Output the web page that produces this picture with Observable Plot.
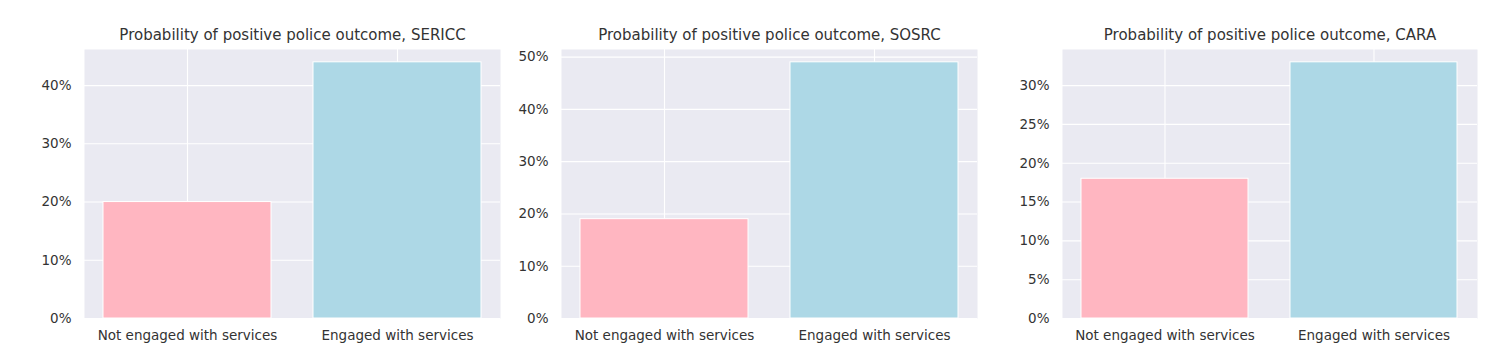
<!DOCTYPE html>
<html>
<head>
<meta charset="utf-8">
<script src="https://cdn.jsdelivr.net/npm/d3@7"></script>
<script src="https://cdn.jsdelivr.net/npm/@observablehq/plot@0.6"></script>
<style>
  html, body { margin: 0; padding: 0; background: #ffffff; }
  #wrap { position: relative; width: 1492px; height: 360px; overflow: hidden; }
  .panel { position: absolute; top: 0; }
</style>
</head>
<body>
<div id="wrap"></div>
<script>
// ---- data ----
const categories = ["Not engaged with services", "Engaged with services"];
const barColors = ["#FFB6C1", "#ADD8E6"];
const panelNames = ["SERICC", "SOSRC", "CARA"];
const sericcValues = [20, 44];
const sosrcValues = [19, 49];
const caraValues = [18, 33];
const sericcTicks = [0, 10, 20, 30, 40];
const sosrcTicks = [0, 10, 20, 30, 40, 50];
const caraTicks = [0, 5, 10, 15, 20, 25, 30];
const titlePrefix = "Probability of positive police outcome, ";

// ---- layout ----
const layouts = [
  {left: 0,    marginLeft: 84, width: 504, marginRight: 4},
  {left: 506,  marginLeft: 55, width: 475, marginRight: 4},
  {left: 1000, marginLeft: 62, width: 487, marginRight: 10}
];
const series = [sericcValues, sosrcValues, caraValues];
const ticks = [sericcTicks, sosrcTicks, caraTicks];

const wrap = document.getElementById("wrap");
series.forEach((vals, k) => {
  const data = categories.map((c, i) => ({cat: c, value: vals[i]}));
  const L = layouts[k];
  const chart = Plot.plot({
    width: L.width,
    height: 360,
    marginLeft: L.marginLeft,
    marginRight: L.marginRight,
    marginTop: 49,
    marginBottom: 42,
    style: {fontFamily: "DejaVu Sans", fontSize: "13.5px", color: "#333333", background: "transparent", overflow: "visible"},
    x: {domain: categories, paddingInner: 0.2, paddingOuter: 0.09, label: null},
    y: {domain: [0, d3.max(vals) * 1.05], label: null},
    color: {domain: categories, range: barColors},
    marks: [
      Plot.frame({fill: "#EAEAF2", stroke: null}),
      Plot.gridY(ticks[k], {stroke: "white", strokeOpacity: 1, strokeWidth: 1.1}),
      Plot.gridX({stroke: "white", strokeOpacity: 1, strokeWidth: 1.1}),
      Plot.barY(data, {x: "cat", y: "value", fill: "cat", stroke: "white", strokeWidth: 1}),
      Plot.axisY({ticks: ticks[k], tickSize: 0, tickPadding: 13, tickFormat: d => d + "%", label: null}),
      Plot.axisX({tickSize: 0, tickPadding: 12, label: null}),
      Plot.text([titlePrefix + panelNames[k]], {text: d => d, frameAnchor: "top", lineAnchor: "middle", dy: -14, fontSize: 15, fill: "#333333"})
    ]
  });
  chart.classList.add("panel");
  chart.style.left = L.left + "px";
  wrap.appendChild(chart);
});
</script>
</body>
</html>
